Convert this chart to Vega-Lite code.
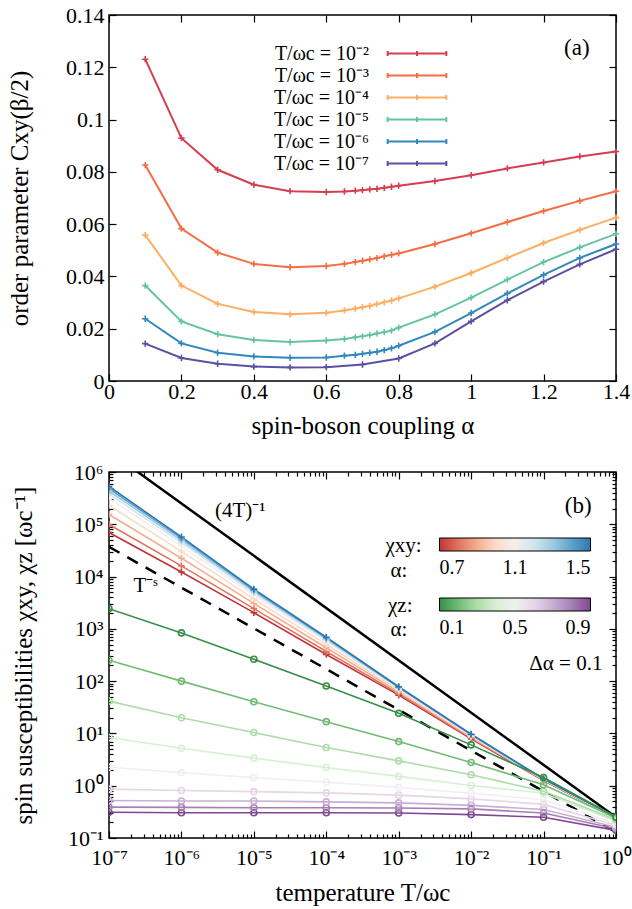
{
 "$schema": "https://vega.github.io/schema/vega-lite/v6.json",
 "background": "white",
 "padding": {"left": 6, "top": 3, "right": 5, "bottom": 5},
 "bounds": "flush",
 "spacing": 91,
 "config": {
  "font": "Liberation Serif",
  "view": {"stroke": "black", "strokeWidth": 1.5},
  "axis": {"domain": false, "grid": false, "ticks": true, "tickColor": "black", "tickWidth": 1.2, "labelColor": "black", "labelFont": "Liberation Serif", "labelFontSize": 22, "titleFont": "Liberation Serif", "titleFontSize": 25, "titleFontWeight": "normal", "titleColor": "black", "labelFlush": false, "labelOverlap": false},
  "legend": {"labelFont": "Liberation Serif", "titleFont": "Liberation Serif", "labelColor": "black", "titleColor": "black", "titleFontWeight": "normal"},
  "text": {"font": "Liberation Serif", "color": "black"}
 },
 "resolve": {"scale": {"color": "independent"}, "legend": {"color": "independent"}},
 "datasets": {
  "order": [
   {"T": "T/ωc = 10⁻²", "alpha": 0.1, "C": 0.1231}, {"T": "T/ωc = 10⁻²", "alpha": 0.2, "C": 0.0929}, {"T": "T/ωc = 10⁻²", "alpha": 0.3, "C": 0.0808}, {"T": "T/ωc = 10⁻²", "alpha": 0.4, "C": 0.0751}, {"T": "T/ωc = 10⁻²", "alpha": 0.5, "C": 0.0726}, {"T": "T/ωc = 10⁻²", "alpha": 0.6, "C": 0.0723}, {"T": "T/ωc = 10⁻²", "alpha": 0.65, "C": 0.0725}, {"T": "T/ωc = 10⁻²", "alpha": 0.68, "C": 0.0728}, {"T": "T/ωc = 10⁻²", "alpha": 0.7, "C": 0.073}, {"T": "T/ωc = 10⁻²", "alpha": 0.72, "C": 0.0733}, {"T": "T/ωc = 10⁻²", "alpha": 0.74, "C": 0.0735}, {"T": "T/ωc = 10⁻²", "alpha": 0.76, "C": 0.0739}, {"T": "T/ωc = 10⁻²", "alpha": 0.78, "C": 0.0743}, {"T": "T/ωc = 10⁻²", "alpha": 0.8, "C": 0.0747}, {"T": "T/ωc = 10⁻²", "alpha": 0.9, "C": 0.0765}, {"T": "T/ωc = 10⁻²", "alpha": 1.0, "C": 0.0787}, {"T": "T/ωc = 10⁻²", "alpha": 1.1, "C": 0.0813}, {"T": "T/ωc = 10⁻²", "alpha": 1.2, "C": 0.0836}, {"T": "T/ωc = 10⁻²", "alpha": 1.3, "C": 0.0859}, {"T": "T/ωc = 10⁻²", "alpha": 1.4, "C": 0.0878},
   {"T": "T/ωc = 10⁻³", "alpha": 0.1, "C": 0.0826}, {"T": "T/ωc = 10⁻³", "alpha": 0.2, "C": 0.0583}, {"T": "T/ωc = 10⁻³", "alpha": 0.3, "C": 0.0491}, {"T": "T/ωc = 10⁻³", "alpha": 0.4, "C": 0.0448}, {"T": "T/ωc = 10⁻³", "alpha": 0.5, "C": 0.0435}, {"T": "T/ωc = 10⁻³", "alpha": 0.6, "C": 0.044}, {"T": "T/ωc = 10⁻³", "alpha": 0.65, "C": 0.0448}, {"T": "T/ωc = 10⁻³", "alpha": 0.68, "C": 0.0455}, {"T": "T/ωc = 10⁻³", "alpha": 0.7, "C": 0.046}, {"T": "T/ωc = 10⁻³", "alpha": 0.72, "C": 0.0465}, {"T": "T/ωc = 10⁻³", "alpha": 0.74, "C": 0.047}, {"T": "T/ωc = 10⁻³", "alpha": 0.76, "C": 0.0477}, {"T": "T/ωc = 10⁻³", "alpha": 0.78, "C": 0.0483}, {"T": "T/ωc = 10⁻³", "alpha": 0.8, "C": 0.0488}, {"T": "T/ωc = 10⁻³", "alpha": 0.9, "C": 0.0524}, {"T": "T/ωc = 10⁻³", "alpha": 1.0, "C": 0.0565}, {"T": "T/ωc = 10⁻³", "alpha": 1.1, "C": 0.0608}, {"T": "T/ωc = 10⁻³", "alpha": 1.2, "C": 0.065}, {"T": "T/ωc = 10⁻³", "alpha": 1.3, "C": 0.0689}, {"T": "T/ωc = 10⁻³", "alpha": 1.4, "C": 0.0726},
   {"T": "T/ωc = 10⁻⁴", "alpha": 0.1, "C": 0.0558}, {"T": "T/ωc = 10⁻⁴", "alpha": 0.2, "C": 0.0365}, {"T": "T/ωc = 10⁻⁴", "alpha": 0.3, "C": 0.0295}, {"T": "T/ωc = 10⁻⁴", "alpha": 0.4, "C": 0.0264}, {"T": "T/ωc = 10⁻⁴", "alpha": 0.5, "C": 0.0255}, {"T": "T/ωc = 10⁻⁴", "alpha": 0.6, "C": 0.0261}, {"T": "T/ωc = 10⁻⁴", "alpha": 0.65, "C": 0.027}, {"T": "T/ωc = 10⁻⁴", "alpha": 0.68, "C": 0.0277}, {"T": "T/ωc = 10⁻⁴", "alpha": 0.7, "C": 0.0282}, {"T": "T/ωc = 10⁻⁴", "alpha": 0.72, "C": 0.0287}, {"T": "T/ωc = 10⁻⁴", "alpha": 0.74, "C": 0.0294}, {"T": "T/ωc = 10⁻⁴", "alpha": 0.76, "C": 0.0301}, {"T": "T/ωc = 10⁻⁴", "alpha": 0.78, "C": 0.0308}, {"T": "T/ωc = 10⁻⁴", "alpha": 0.8, "C": 0.0316}, {"T": "T/ωc = 10⁻⁴", "alpha": 0.9, "C": 0.0361}, {"T": "T/ωc = 10⁻⁴", "alpha": 1.0, "C": 0.0413}, {"T": "T/ωc = 10⁻⁴", "alpha": 1.1, "C": 0.0471}, {"T": "T/ωc = 10⁻⁴", "alpha": 1.2, "C": 0.0528}, {"T": "T/ωc = 10⁻⁴", "alpha": 1.3, "C": 0.0578}, {"T": "T/ωc = 10⁻⁴", "alpha": 1.4, "C": 0.0625},
   {"T": "T/ωc = 10⁻⁵", "alpha": 0.1, "C": 0.0365}, {"T": "T/ωc = 10⁻⁵", "alpha": 0.2, "C": 0.0228}, {"T": "T/ωc = 10⁻⁵", "alpha": 0.3, "C": 0.0179}, {"T": "T/ωc = 10⁻⁵", "alpha": 0.4, "C": 0.0157}, {"T": "T/ωc = 10⁻⁵", "alpha": 0.5, "C": 0.0149}, {"T": "T/ωc = 10⁻⁵", "alpha": 0.6, "C": 0.0155}, {"T": "T/ωc = 10⁻⁵", "alpha": 0.65, "C": 0.0161}, {"T": "T/ωc = 10⁻⁵", "alpha": 0.68, "C": 0.0167}, {"T": "T/ωc = 10⁻⁵", "alpha": 0.7, "C": 0.0171}, {"T": "T/ωc = 10⁻⁵", "alpha": 0.72, "C": 0.0176}, {"T": "T/ωc = 10⁻⁵", "alpha": 0.74, "C": 0.0182}, {"T": "T/ωc = 10⁻⁵", "alpha": 0.76, "C": 0.0187}, {"T": "T/ωc = 10⁻⁵", "alpha": 0.78, "C": 0.0193}, {"T": "T/ωc = 10⁻⁵", "alpha": 0.8, "C": 0.0204}, {"T": "T/ωc = 10⁻⁵", "alpha": 0.9, "C": 0.0255}, {"T": "T/ωc = 10⁻⁵", "alpha": 1.0, "C": 0.0319}, {"T": "T/ωc = 10⁻⁵", "alpha": 1.1, "C": 0.0388}, {"T": "T/ωc = 10⁻⁵", "alpha": 1.2, "C": 0.0455}, {"T": "T/ωc = 10⁻⁵", "alpha": 1.3, "C": 0.0511}, {"T": "T/ωc = 10⁻⁵", "alpha": 1.4, "C": 0.0563},
   {"T": "T/ωc = 10⁻⁶", "alpha": 0.1, "C": 0.0238}, {"T": "T/ωc = 10⁻⁶", "alpha": 0.2, "C": 0.0144}, {"T": "T/ωc = 10⁻⁶", "alpha": 0.3, "C": 0.0108}, {"T": "T/ωc = 10⁻⁶", "alpha": 0.4, "C": 0.0094}, {"T": "T/ωc = 10⁻⁶", "alpha": 0.5, "C": 0.0089}, {"T": "T/ωc = 10⁻⁶", "alpha": 0.6, "C": 0.009}, {"T": "T/ωc = 10⁻⁶", "alpha": 0.65, "C": 0.0097}, {"T": "T/ωc = 10⁻⁶", "alpha": 0.68, "C": 0.01}, {"T": "T/ωc = 10⁻⁶", "alpha": 0.7, "C": 0.0104}, {"T": "T/ωc = 10⁻⁶", "alpha": 0.72, "C": 0.0108}, {"T": "T/ωc = 10⁻⁶", "alpha": 0.74, "C": 0.0112}, {"T": "T/ωc = 10⁻⁶", "alpha": 0.76, "C": 0.0118}, {"T": "T/ωc = 10⁻⁶", "alpha": 0.78, "C": 0.0125}, {"T": "T/ωc = 10⁻⁶", "alpha": 0.8, "C": 0.0135}, {"T": "T/ωc = 10⁻⁶", "alpha": 0.9, "C": 0.0188}, {"T": "T/ωc = 10⁻⁶", "alpha": 1.0, "C": 0.026}, {"T": "T/ωc = 10⁻⁶", "alpha": 1.1, "C": 0.0335}, {"T": "T/ωc = 10⁻⁶", "alpha": 1.2, "C": 0.0406}, {"T": "T/ωc = 10⁻⁶", "alpha": 1.3, "C": 0.0471}, {"T": "T/ωc = 10⁻⁶", "alpha": 1.4, "C": 0.0524},
   {"T": "T/ωc = 10⁻⁷", "alpha": 0.1, "C": 0.0143}, {"T": "T/ωc = 10⁻⁷", "alpha": 0.2, "C": 0.0088}, {"T": "T/ωc = 10⁻⁷", "alpha": 0.3, "C": 0.0066}, {"T": "T/ωc = 10⁻⁷", "alpha": 0.4, "C": 0.0055}, {"T": "T/ωc = 10⁻⁷", "alpha": 0.5, "C": 0.0052}, {"T": "T/ωc = 10⁻⁷", "alpha": 0.6, "C": 0.0053}, {"T": "T/ωc = 10⁻⁷", "alpha": 0.7, "C": 0.0063}, {"T": "T/ωc = 10⁻⁷", "alpha": 0.8, "C": 0.0086}, {"T": "T/ωc = 10⁻⁷", "alpha": 0.9, "C": 0.0144}, {"T": "T/ωc = 10⁻⁷", "alpha": 1.0, "C": 0.0228}, {"T": "T/ωc = 10⁻⁷", "alpha": 1.1, "C": 0.0309}, {"T": "T/ωc = 10⁻⁷", "alpha": 1.2, "C": 0.038}, {"T": "T/ωc = 10⁻⁷", "alpha": 1.3, "C": 0.0446}, {"T": "T/ωc = 10⁻⁷", "alpha": 1.4, "C": 0.0504}
  ],
  "xy": [
   {"a": 0.7, "T": 1e-7, "chi": 69700}, {"a": 0.7, "T": 1e-6, "chi": 12200}, {"a": 0.7, "T": 1e-5, "chi": 2042}, {"a": 0.7, "T": 1e-4, "chi": 324}, {"a": 0.7, "T": 1e-3, "chi": 54.1}, {"a": 0.7, "T": 1e-2, "chi": 7.85}, {"a": 0.7, "T": 0.1, "chi": 1.259}, {"a": 0.7, "T": 1, "chi": 0.24},
   {"a": 0.8, "T": 1e-7, "chi": 99100}, {"a": 0.8, "T": 1e-6, "chi": 16000}, {"a": 0.8, "T": 1e-5, "chi": 2443}, {"a": 0.8, "T": 1e-4, "chi": 369}, {"a": 0.8, "T": 1e-3, "chi": 57.7}, {"a": 0.8, "T": 1e-2, "chi": 8.15}, {"a": 0.8, "T": 0.1, "chi": 1.274}, {"a": 0.8, "T": 1, "chi": 0.242},
   {"a": 0.9, "T": 1e-7, "chi": 154000}, {"a": 0.9, "T": 1e-6, "chi": 22400}, {"a": 0.9, "T": 1e-5, "chi": 3062}, {"a": 0.9, "T": 1e-4, "chi": 436}, {"a": 0.9, "T": 1e-3, "chi": 62.5}, {"a": 0.9, "T": 1e-2, "chi": 8.51}, {"a": 0.9, "T": 0.1, "chi": 1.294}, {"a": 0.9, "T": 1, "chi": 0.243},
   {"a": 1.0, "T": 1e-7, "chi": 229000}, {"a": 1.0, "T": 1e-6, "chi": 30300}, {"a": 1.0, "T": 1e-5, "chi": 3750}, {"a": 1.0, "T": 1e-4, "chi": 505}, {"a": 1.0, "T": 1e-3, "chi": 67.1}, {"a": 1.0, "T": 1e-2, "chi": 8.87}, {"a": 1.0, "T": 0.1, "chi": 1.312}, {"a": 1.0, "T": 1, "chi": 0.245},
   {"a": 1.1, "T": 1e-7, "chi": 311000}, {"a": 1.1, "T": 1e-6, "chi": 38300}, {"a": 1.1, "T": 1e-5, "chi": 4395}, {"a": 1.1, "T": 1e-4, "chi": 568}, {"a": 1.1, "T": 1e-3, "chi": 71.0}, {"a": 1.1, "T": 1e-2, "chi": 9.16}, {"a": 1.1, "T": 0.1, "chi": 1.324}, {"a": 1.1, "T": 1, "chi": 0.247},
   {"a": 1.2, "T": 1e-7, "chi": 379000}, {"a": 1.2, "T": 1e-6, "chi": 44500}, {"a": 1.2, "T": 1e-5, "chi": 4853}, {"a": 1.2, "T": 1e-4, "chi": 611}, {"a": 1.2, "T": 1e-3, "chi": 73.6}, {"a": 1.2, "T": 1e-2, "chi": 9.33}, {"a": 1.2, "T": 0.1, "chi": 1.334}, {"a": 1.2, "T": 1, "chi": 0.248},
   {"a": 1.3, "T": 1e-7, "chi": 434000}, {"a": 1.3, "T": 1e-6, "chi": 49200}, {"a": 1.3, "T": 1e-5, "chi": 5200}, {"a": 1.3, "T": 1e-4, "chi": 643}, {"a": 1.3, "T": 1e-3, "chi": 75.3}, {"a": 1.3, "T": 1e-2, "chi": 9.46}, {"a": 1.3, "T": 0.1, "chi": 1.34}, {"a": 1.3, "T": 1, "chi": 0.249},
   {"a": 1.4, "T": 1e-7, "chi": 484000}, {"a": 1.4, "T": 1e-6, "chi": 53600}, {"a": 1.4, "T": 1e-5, "chi": 5508}, {"a": 1.4, "T": 1e-4, "chi": 670}, {"a": 1.4, "T": 1e-3, "chi": 76.9}, {"a": 1.4, "T": 1e-2, "chi": 9.57}, {"a": 1.4, "T": 0.1, "chi": 1.346}, {"a": 1.4, "T": 1, "chi": 0.25},
   {"a": 1.5, "T": 1e-7, "chi": 528000}, {"a": 1.5, "T": 1e-6, "chi": 57300}, {"a": 1.5, "T": 1e-5, "chi": 5754}, {"a": 1.5, "T": 1e-4, "chi": 692}, {"a": 1.5, "T": 1e-3, "chi": 78.2}, {"a": 1.5, "T": 1e-2, "chi": 9.66}, {"a": 1.5, "T": 0.1, "chi": 1.349}, {"a": 1.5, "T": 1, "chi": 0.251}
  ],
  "z": [
   {"a": 0.9, "T": 1e-7, "chi": 0.31}, {"a": 0.9, "T": 1e-6, "chi": 0.305}, {"a": 0.9, "T": 1e-5, "chi": 0.305}, {"a": 0.9, "T": 1e-4, "chi": 0.305}, {"a": 0.9, "T": 1e-3, "chi": 0.3}, {"a": 0.9, "T": 1e-2, "chi": 0.28}, {"a": 0.9, "T": 0.1, "chi": 0.25}, {"a": 0.9, "T": 1, "chi": 0.14},
   {"a": 0.8, "T": 1e-7, "chi": 0.39}, {"a": 0.8, "T": 1e-6, "chi": 0.385}, {"a": 0.8, "T": 1e-5, "chi": 0.38}, {"a": 0.8, "T": 1e-4, "chi": 0.38}, {"a": 0.8, "T": 1e-3, "chi": 0.375}, {"a": 0.8, "T": 1e-2, "chi": 0.36}, {"a": 0.8, "T": 0.1, "chi": 0.3}, {"a": 0.8, "T": 1, "chi": 0.15},
   {"a": 0.7, "T": 1e-7, "chi": 0.52}, {"a": 0.7, "T": 1e-6, "chi": 0.51}, {"a": 0.7, "T": 1e-5, "chi": 0.51}, {"a": 0.7, "T": 1e-4, "chi": 0.49}, {"a": 0.7, "T": 1e-3, "chi": 0.47}, {"a": 0.7, "T": 1e-2, "chi": 0.42}, {"a": 0.7, "T": 0.1, "chi": 0.35}, {"a": 0.7, "T": 1, "chi": 0.16},
   {"a": 0.6, "T": 1e-7, "chi": 0.86}, {"a": 0.6, "T": 1e-6, "chi": 0.81}, {"a": 0.6, "T": 1e-5, "chi": 0.77}, {"a": 0.6, "T": 1e-4, "chi": 0.73}, {"a": 0.6, "T": 1e-3, "chi": 0.66}, {"a": 0.6, "T": 1e-2, "chi": 0.56}, {"a": 0.6, "T": 0.1, "chi": 0.44}, {"a": 0.6, "T": 1, "chi": 0.175},
   {"a": 0.5, "T": 1e-7, "chi": 2.25}, {"a": 0.5, "T": 1e-6, "chi": 1.78}, {"a": 0.5, "T": 1e-5, "chi": 1.43}, {"a": 0.5, "T": 1e-4, "chi": 1.17}, {"a": 0.5, "T": 1e-3, "chi": 0.93}, {"a": 0.5, "T": 1e-2, "chi": 0.72}, {"a": 0.5, "T": 0.1, "chi": 0.54}, {"a": 0.5, "T": 1, "chi": 0.19},
   {"a": 0.4, "T": 1e-7, "chi": 8.34}, {"a": 0.4, "T": 1e-6, "chi": 5.21}, {"a": 0.4, "T": 1e-5, "chi": 3.37}, {"a": 0.4, "T": 1e-4, "chi": 2.23}, {"a": 0.4, "T": 1e-3, "chi": 1.51}, {"a": 0.4, "T": 1e-2, "chi": 1.01}, {"a": 0.4, "T": 0.1, "chi": 0.72}, {"a": 0.4, "T": 1, "chi": 0.21},
   {"a": 0.3, "T": 1e-7, "chi": 41.6}, {"a": 0.3, "T": 1e-6, "chi": 20.0}, {"a": 0.3, "T": 1e-5, "chi": 10.4}, {"a": 0.3, "T": 1e-4, "chi": 5.37}, {"a": 0.3, "T": 1e-3, "chi": 2.99}, {"a": 0.3, "T": 1e-2, "chi": 1.62}, {"a": 0.3, "T": 0.1, "chi": 0.78}, {"a": 0.3, "T": 1, "chi": 0.224},
   {"a": 0.2, "T": 1e-7, "chi": 251}, {"a": 0.2, "T": 1e-6, "chi": 100}, {"a": 0.2, "T": 1e-5, "chi": 40.4}, {"a": 0.2, "T": 1e-4, "chi": 16.8}, {"a": 0.2, "T": 1e-3, "chi": 6.98}, {"a": 0.2, "T": 1e-2, "chi": 2.78}, {"a": 0.2, "T": 0.1, "chi": 1.045}, {"a": 0.2, "T": 1, "chi": 0.24},
   {"a": 0.1, "T": 1e-7, "chi": 2432}, {"a": 0.1, "T": 1e-6, "chi": 836}, {"a": 0.1, "T": 1e-5, "chi": 262}, {"a": 0.1, "T": 1e-4, "chi": 80.9}, {"a": 0.1, "T": 1e-3, "chi": 24.2}, {"a": 0.1, "T": 1e-2, "chi": 6.04}, {"a": 0.1, "T": 0.1, "chi": 1.44}, {"a": 0.1, "T": 1, "chi": 0.253}
  ],
  "inv": [{"T": 1e-7, "chi": 2500000}, {"T": 1, "chi": 0.25}],
  "pow": [{"T": 1e-7, "chi": 37000}, {"T": 1, "chi": 0.13}]
 },
 "vconcat": [
  {
   "width": 507,
   "height": 366,
   "layer": [
    {
     "data": {"name": "order"},
     "mark": {"type": "line", "strokeWidth": 2, "point": {"shape": "M-1,0H1M0,-1V1", "filled": false, "size": 40, "strokeWidth": 1.6}},
     "encoding": {
      "x": {"field": "alpha", "type": "quantitative", "scale": {"domain": [0, 1.4], "nice": false}, "axis": {"orient": "bottom", "values": [0, 0.2, 0.4, 0.6, 0.8, 1, 1.2, 1.4], "format": "~g", "tickSize": -7, "labelPadding": 7, "title": "spin-boson coupling α", "titleY": 32, "titleBaseline": "top"}},
      "y": {"field": "C", "type": "quantitative", "scale": {"domain": [0, 0.14], "nice": false, "zero": false}, "axis": {"orient": "left", "values": [0, 0.02, 0.04, 0.06, 0.08, 0.1, 0.12, 0.14], "format": "~g", "tickSize": -7, "labelPadding": 12, "title": "order parameter Cxy(β/2)", "titleX": -82, "titleBaseline": "alphabetic"}},
      "color": {"field": "T", "type": "nominal", "scale": {"domain": ["T/ωc = 10⁻²", "T/ωc = 10⁻³", "T/ωc = 10⁻⁴", "T/ωc = 10⁻⁵", "T/ωc = 10⁻⁶", "T/ωc = 10⁻⁷"], "range": ["#d53e4f", "#f46d43", "#fdae61", "#66c2a5", "#3288bd", "#5e4fa2"]},
       "legend": {"orient": "none", "legendX": 298, "legendY": 28.5, "direction": "vertical", "title": null, "padding": 0, "symbolType": "M-5.87,0H5.87M-5.87,-0.5V0.5M5.87,-0.5V0.5M0,-0.5V0.5", "symbolSize": 100, "symbolStrokeWidth": 2, "labelAlign": "right", "labelOffset": -58, "labelFontSize": 20, "rowPadding": 2}}
     }
    },
    {
     "data": {"name": "order"},
     "mark": {"type": "point", "opacity": 0},
     "encoding": {
      "x": {"field": "alpha", "type": "quantitative", "axis": {"orient": "top", "values": [0, 0.2, 0.4, 0.6, 0.8, 1, 1.2, 1.4], "labels": false, "title": null, "tickSize": -7}},
      "y": {"field": "C", "type": "quantitative", "axis": {"orient": "right", "values": [0, 0.02, 0.04, 0.06, 0.08, 0.1, 0.12, 0.14], "labels": false, "title": null, "tickSize": -7}}
     }
    },
    {
     "data": {"values": [{}]},
     "mark": {"type": "text", "align": "right", "baseline": "middle", "fontSize": 23},
     "encoding": {
      "x": {"datum": 1.327, "type": "quantitative", "axis": null},
      "y": {"datum": 0.1274, "type": "quantitative", "axis": null},
      "text": {"value": "(a)"}
     }
    }
   ],
   "resolve": {"axis": {"x": "independent", "y": "independent"}}
  },
  {
   "width": 507,
   "height": 366,
   "layer": [
    {
     "data": {"name": "inv"},
     "mark": {"type": "line", "color": "black", "strokeWidth": 2.5, "clip": true},
     "encoding": {
      "x": {"field": "T", "type": "quantitative", "scale": {"type": "log", "domain": [1e-7, 1], "nice": false}, "axis": null},
      "y": {"field": "chi", "type": "quantitative", "scale": {"type": "log", "domain": [0.1, 1000000], "nice": false}, "axis": null}
     }
    },
    {
     "data": {"name": "pow"},
     "mark": {"type": "line", "color": "black", "strokeWidth": 2.5, "strokeDash": [12, 9], "clip": true},
     "encoding": {
      "x": {"field": "T", "type": "quantitative", "axis": null},
      "y": {"field": "chi", "type": "quantitative", "axis": null}
     }
    },
    {
     "data": {"name": "xy"},
     "mark": {"type": "line", "strokeWidth": 1.6, "clip": true, "point": {"shape": "M-1,0H1M0,-1V1", "filled": false, "size": 45, "strokeWidth": 1.6}},
     "encoding": {
      "x": {"field": "T", "type": "quantitative", "axis": null},
      "y": {"field": "chi", "type": "quantitative", "axis": null},
      "detail": {"field": "a", "type": "nominal"},
      "color": {"field": "a", "type": "quantitative", "scale": {"scheme": {"name": "redblue", "extent": [0.1, 0.9]}, "domain": [0.7, 1.5]},
       "legend": {"orient": "none", "legendX": 330.5, "legendY": 66, "direction": "horizontal", "gradientLength": 151, "gradientThickness": 13, "gradientStrokeColor": "black", "gradientStrokeWidth": 1, "values": [0.7, 1.1, 1.5], "format": ".1f", "labelFontSize": 20, "labelAlign": "center", "labelOffset": 7, "title": null, "padding": 0}}
     }
    },
    {
     "data": {"name": "z"},
     "mark": {"type": "line", "strokeWidth": 1.6, "clip": true, "point": {"shape": "circle", "filled": false, "size": 36, "strokeWidth": 1.6}},
     "encoding": {
      "x": {"field": "T", "type": "quantitative", "axis": null},
      "y": {"field": "chi", "type": "quantitative", "axis": null},
      "detail": {"field": "a", "type": "nominal"},
      "color": {"field": "a", "type": "quantitative", "scale": {"scheme": {"name": "purplegreen", "extent": [0.9, 0.1]}, "domain": [0.1, 0.9]},
       "legend": {"orient": "none", "legendX": 330.5, "legendY": 126, "direction": "horizontal", "gradientLength": 151, "gradientThickness": 13, "gradientStrokeColor": "black", "gradientStrokeWidth": 1, "values": [0.1, 0.5, 0.9], "format": ".1f", "labelFontSize": 20, "labelAlign": "center", "labelOffset": 7, "title": null, "padding": 0}}
     }
    },
    {
     "data": {"values": [{}]},
     "mark": {"type": "text", "align": "center", "baseline": "middle", "fontSize": 21},
     "encoding": {"x": {"datum": 6.5e-6, "type": "quantitative", "axis": null}, "y": {"datum": 180000, "type": "quantitative", "axis": null}, "text": {"value": "(4T)⁻¹"}}
    },
    {
     "data": {"values": [{}]},
     "mark": {"type": "text", "align": "center", "baseline": "middle", "fontSize": 21},
     "encoding": {"x": {"datum": 3.2e-7, "type": "quantitative", "axis": null}, "y": {"datum": 6600, "type": "quantitative", "axis": null}, "text": {"value": "T⁻ˢ"}}
    },
    {
     "data": {"values": [{}]},
     "mark": {"type": "text", "align": "right", "baseline": "middle", "fontSize": 23},
     "encoding": {"x": {"datum": 0.46, "type": "quantitative", "axis": null}, "y": {"datum": 224000, "type": "quantitative", "axis": null}, "text": {"value": "(b)"}}
    },
    {
     "data": {"values": [{}]},
     "mark": {"type": "text", "align": "right", "baseline": "middle", "fontSize": 21},
     "encoding": {"x": {"datum": 0.65, "type": "quantitative", "axis": null}, "y": {"datum": 213, "type": "quantitative", "axis": null}, "text": {"value": "Δα = 0.1"}}
    },
    {
     "data": {"values": [{"T": 0.00207, "chi": 38500, "s": "χxy:"}, {"T": 0.00132, "chi": 12800, "s": "α:"}, {"T": 0.00155, "chi": 2740, "s": "χz:"}, {"T": 0.00132, "chi": 931, "s": "α:"}]},
     "mark": {"type": "text", "align": "right", "baseline": "middle", "fontSize": 21},
     "encoding": {"x": {"field": "T", "type": "quantitative", "axis": null}, "y": {"field": "chi", "type": "quantitative", "axis": null}, "text": {"field": "s"}}
    },
    {
     "data": {"name": "inv"},
     "mark": {"type": "point", "opacity": 0},
     "encoding": {
      "x": {"field": "T", "type": "quantitative", "axis": {"orient": "bottom", "values": [1e-7, 1e-6, 1e-5, 1e-4, 1e-3, 1e-2, 0.1, 1], "tickSize": -7, "labelPadding": 16, "labelExpr": "'10' + (datum.value < 0.99 ? '⁻' : '') + ['⁰','¹','²','³','⁴','⁵','⁶','⁷'][abs(round(log(datum.value)/LN10))]", "title": "temperature T/ωc", "titleY": 42, "titleBaseline": "top"}},
      "y": {"field": "chi", "type": "quantitative", "axis": {"orient": "left", "values": [0.1, 1, 10, 100, 1000, 10000, 100000, 1000000], "tickSize": -7, "labelPadding": 13, "labelExpr": "'10' + (datum.value < 0.99 ? '⁻' : '') + ['⁰','¹','²','³','⁴','⁵','⁶','⁷'][abs(round(log(datum.value)/LN10))]", "title": "spin susceptibilities χxy, χz [ωc⁻¹]", "titleX": -77.5, "titleBaseline": "alphabetic"}}
     }
    },
    {
     "data": {"name": "inv"},
     "mark": {"type": "point", "opacity": 0},
     "encoding": {
      "x": {"field": "T", "type": "quantitative", "axis": {"orient": "bottom", "values": [2e-7, 3e-7, 4e-7, 5e-7, 6e-7, 7e-7, 8e-7, 9e-7, 2e-6, 3e-6, 4e-6, 5e-6, 6e-6, 7e-6, 8e-6, 9e-6, 2e-5, 3e-5, 4e-5, 5e-5, 6e-5, 7e-5, 8e-5, 9e-5, 2e-4, 3e-4, 4e-4, 5e-4, 6e-4, 7e-4, 8e-4, 9e-4, 2e-3, 3e-3, 4e-3, 5e-3, 6e-3, 7e-3, 8e-3, 9e-3, 0.02, 0.03, 0.04, 0.05, 0.06, 0.07, 0.08, 0.09, 0.2, 0.3, 0.4, 0.5, 0.6, 0.7, 0.8, 0.9], "tickSize": -4, "labels": false, "title": null}},
      "y": {"field": "chi", "type": "quantitative", "axis": {"orient": "left", "values": [0.2, 0.3, 0.4, 0.5, 0.6, 0.7, 0.8, 0.9, 2, 3, 4, 5, 6, 7, 8, 9, 20, 30, 40, 50, 60, 70, 80, 90, 200, 300, 400, 500, 600, 700, 800, 900, 2000, 3000, 4000, 5000, 6000, 7000, 8000, 9000, 20000, 30000, 40000, 50000, 60000, 70000, 80000, 90000, 200000, 300000, 400000, 500000, 600000, 700000, 800000, 900000], "tickSize": -4, "labels": false, "title": null}}
     }
    },
    {
     "data": {"name": "inv"},
     "mark": {"type": "point", "opacity": 0},
     "encoding": {
      "x": {"field": "T", "type": "quantitative", "axis": {"orient": "top", "values": [1e-7, 1e-6, 1e-5, 1e-4, 1e-3, 1e-2, 0.1, 1], "tickSize": -7, "labels": false, "title": null}},
      "y": {"field": "chi", "type": "quantitative", "axis": {"orient": "right", "values": [0.1, 1, 10, 100, 1000, 10000, 100000, 1000000], "tickSize": -7, "labels": false, "title": null}}
     }
    },
    {
     "data": {"name": "inv"},
     "mark": {"type": "point", "opacity": 0},
     "encoding": {
      "x": {"field": "T", "type": "quantitative", "axis": {"orient": "top", "values": [2e-7, 3e-7, 4e-7, 5e-7, 6e-7, 7e-7, 8e-7, 9e-7, 2e-6, 3e-6, 4e-6, 5e-6, 6e-6, 7e-6, 8e-6, 9e-6, 2e-5, 3e-5, 4e-5, 5e-5, 6e-5, 7e-5, 8e-5, 9e-5, 2e-4, 3e-4, 4e-4, 5e-4, 6e-4, 7e-4, 8e-4, 9e-4, 2e-3, 3e-3, 4e-3, 5e-3, 6e-3, 7e-3, 8e-3, 9e-3, 0.02, 0.03, 0.04, 0.05, 0.06, 0.07, 0.08, 0.09, 0.2, 0.3, 0.4, 0.5, 0.6, 0.7, 0.8, 0.9], "tickSize": -4, "labels": false, "title": null}},
      "y": {"field": "chi", "type": "quantitative", "axis": {"orient": "right", "values": [0.2, 0.3, 0.4, 0.5, 0.6, 0.7, 0.8, 0.9, 2, 3, 4, 5, 6, 7, 8, 9, 20, 30, 40, 50, 60, 70, 80, 90, 200, 300, 400, 500, 600, 700, 800, 900, 2000, 3000, 4000, 5000, 6000, 7000, 8000, 9000, 20000, 30000, 40000, 50000, 60000, 70000, 80000, 90000, 200000, 300000, 400000, 500000, 600000, 700000, 800000, 900000], "tickSize": -4, "labels": false, "title": null}}
     }
    }
   ],
   "resolve": {"scale": {"color": "independent"}, "axis": {"x": "independent", "y": "independent"}}
  }
 ]
}
